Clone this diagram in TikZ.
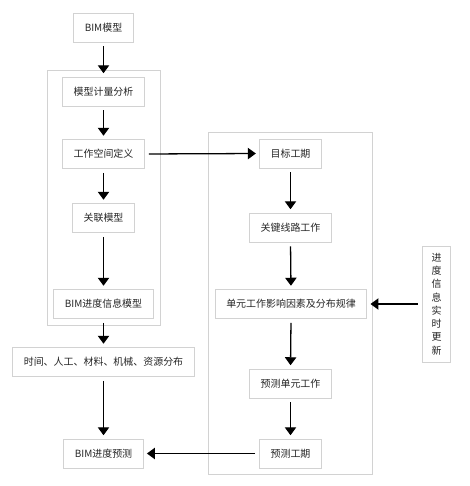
\documentclass[tikz,border=0pt]{standalone}
\usepackage{fontspec}
\setmainfont{Noto Sans CJK SC}
\usetikzlibrary{arrows.meta}
\tikzset{
  box/.style={draw=gray!35, line width=0.7pt, fill=white, text=black!85,
    font=\fontsize{8.5}{10}\selectfont, minimum height=0.87cm,
    inner xsep=0.33cm, inner ysep=0pt},
  frame/.style={draw=gray!35, line width=0.7pt},
  flow/.style={-{Triangle[length=0.24cm, width=0.34cm]}, line width=1.1pt,
    shorten <=0.12cm, shorten >=0.1cm},
}
\begin{document}
\begin{tikzpicture}[x=0.03cm, y=-0.03cm]
  \useasboundingbox (0,0) rectangle (469,486);
  %--- frames ---
  \draw[frame] (47,70) rectangle (160,325);
  \draw[frame] (208,132) rectangle (372,474);
  %--- left column ---
  \node[box] (bim)      at (103.5,27.5) {BIM模型};
  \node[box] (jiliang)  at (103.5,91.5) {模型计量分析};
  \node[box] (kongjian) at (103.5,154)  {工作空间定义};
  \node[box] (guanlian) at (103.5,218)  {关联模型};
  \node[box] (jindu)    at (103.5,304)  {BIM进度信息模型};
  \node[box] (ziyuan)   at (103.5,362)  {时间、人工、材料、机械、资源分布};
  \node[box] (yuce)     at (103.5,453.5) {BIM进度预测};
  %--- right column ---
  \node[box] (mubiao)   at (290.5,153.5) {目标工期};
  \node[box] (guanjian) at (290.5,227.5) {关键线路工作};
  \node[box] (danyuan)  at (291,304)    {单元工作影响因素及分布规律};
  \node[box] (yucedy)   at (290.5,383.5) {预测单元工作};
  \node[box] (yucegq)   at (290.5,453.5) {预测工期};
  %--- update box ---
  \node[box, align=center, minimum height=3.48cm, inner xsep=0.28cm,
    font=\fontsize{8.5}{11.3}\selectfont] (gengxin) at (436.5,304)
    {进\\度\\信\\息\\实\\时\\更\\新};
  %--- arrows ---
  \foreach \a/\b in {bim/jiliang, jiliang/kongjian, kongjian/guanlian,
                     guanlian/jindu, jindu/ziyuan, ziyuan/yuce,
                     mubiao/guanjian, guanjian/danyuan, danyuan/yucedy,
                     yucedy/yucegq} {
    \draw[flow] (\a.south) -- (\b.north);
  }
  \draw[flow] (kongjian.east) -- (mubiao.west);
  \draw[flow] (yucegq.west) -- (yuce.east);
  \draw[flow] (gengxin.west) -- (danyuan.east);
\end{tikzpicture}
\end{document}
